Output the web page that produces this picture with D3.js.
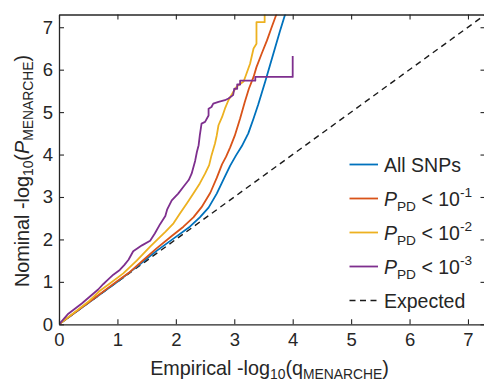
<!DOCTYPE html>
<html>
<head>
<meta charset="utf-8">
<script src="https://cdn.jsdelivr.net/npm/d3@7"></script>
<style>
  html, body { margin: 0; padding: 0; background: #fff; }
  svg { display: block; font-family: "Liberation Sans", Arial, Helvetica, sans-serif; }
</style>
</head>
<body>
<svg id="chart" width="484" height="381"></svg>
<script>
// Q-Q curves: [empirical -log10(q), nominal -log10(P)]
const allSnps = [
  [0, 0], [0.5, 0.5], [1.0, 1.0], [1.4, 1.43], [1.67, 1.73], [2.0, 2.06], [2.24, 2.3],
  [2.41, 2.52], [2.56, 2.75], [2.70, 3.08], [2.81, 3.40], [2.93, 3.74], [3.03, 3.98],
  [3.13, 4.2], [3.24, 4.5], [3.33, 4.85], [3.41, 5.18], [3.47, 5.45], [3.53, 5.72],
  [3.61, 6.1], [3.70, 6.52], [3.78, 6.9], [3.87, 7.3], [3.92, 7.55]
];
const pd1 = [
  [0, 0], [0.5, 0.51], [1.0, 1.02], [1.22, 1.24], [1.44, 1.51], [1.67, 1.79], [1.93, 2.08],
  [2.13, 2.3], [2.30, 2.52], [2.44, 2.76], [2.59, 3.1], [2.70, 3.45], [2.79, 3.77],
  [2.86, 3.95], [2.93, 4.17], [3.01, 4.45], [3.10, 4.85], [3.18, 5.24], [3.25, 5.55],
  [3.33, 5.83], [3.38, 6.06], [3.47, 6.38], [3.56, 6.69], [3.64, 7.0], [3.72, 7.3], [3.76, 7.5]
];
const pd2 = [
  [0, 0], [0.5, 0.53], [0.7, 0.79], [0.87, 0.96], [1.10, 1.2], [1.33, 1.5], [1.56, 1.83],
  [1.70, 2.02], [1.82, 2.18], [1.96, 2.38], [2.07, 2.61], [2.19, 2.85], [2.30, 3.08],
  [2.41, 3.32], [2.50, 3.55], [2.57, 3.75], [2.61, 3.98], [2.67, 4.26], [2.70, 4.45],
  [2.73, 4.69], [2.79, 4.88], [2.84, 5.08], [2.90, 5.28], [2.98, 5.47], [3.04, 5.6],
  [3.10, 5.66], [3.16, 5.72], [3.21, 5.91], [3.27, 6.14], [3.33, 6.5], [3.38, 6.61],
  [3.38, 7.12], [3.52, 7.12], [3.52, 7.5]
];
const pd3 = [
  [0, 0], [0.16, 0.25], [0.39, 0.49], [0.56, 0.69], [0.67, 0.82], [0.76, 0.95], [0.82, 1.03],
  [0.93, 1.17], [1.04, 1.28], [1.12, 1.40], [1.19, 1.52], [1.27, 1.72], [1.42, 1.86],
  [1.56, 1.97], [1.64, 2.14], [1.73, 2.36], [1.82, 2.55], [1.85, 2.70], [1.93, 2.92],
  [2.04, 3.08], [2.13, 3.24], [2.22, 3.40], [2.27, 3.55], [2.33, 3.85], [2.36, 4.06],
  [2.39, 4.22], [2.41, 4.45], [2.44, 4.73], [2.50, 4.77], [2.56, 4.92], [2.56, 5.08],
  [2.61, 5.12], [2.64, 5.20], [2.73, 5.24], [2.84, 5.28], [2.90, 5.32], [2.98, 5.40],
  [3.00, 5.55], [3.05, 5.55], [3.05, 5.65], [3.10, 5.65], [3.10, 5.74], [3.36, 5.74],
  [3.36, 5.83], [4.00, 5.83], [4.00, 6.32]
];
const expected = [[0, 0], [7.3, 7.3]];

const seriesColors = ["#0072BD", "#D95319", "#EDB120", "#7E2F8E"];
const seriesData = [allSnps, pd1, pd2, pd3];
const xTicks = [0, 1, 2, 3, 4, 5, 6, 7];
const yTicks = [0, 1, 2, 3, 4, 5, 6, 7];
const domainMax = 7.3;

const svg = d3.select("#chart");
const plotLeft = 59, plotRight = 485.5, plotTop = 14.5, plotBottom = 324.3;
const axisColor = "#262626";

const x = d3.scaleLinear().domain([0, domainMax]).range([plotLeft, plotRight]);
const y = d3.scaleLinear().domain([0, domainMax]).range([plotBottom, plotTop]);

svg.append("defs").append("clipPath").attr("id", "plot-clip")
  .append("rect").attr("x", plotLeft).attr("y", plotTop)
  .attr("width", plotRight - plotLeft).attr("height", plotBottom - plotTop);

const line = d3.line().x(d => x(d[0])).y(d => y(d[1]));
const plot = svg.append("g").attr("clip-path", "url(#plot-clip)");

// expected null line
plot.append("path").datum(expected)
  .attr("d", line).attr("fill", "none")
  .attr("stroke", "#1a1a1a").attr("stroke-width", 1.4)
  .attr("stroke-dasharray", "6,4.5");

seriesData.forEach((data, i) => {
  plot.append("path").datum(data)
    .attr("d", line).attr("fill", "none")
    .attr("stroke", seriesColors[i]).attr("stroke-width", 1.8)
    .attr("stroke-linejoin", "round");
});

// axes with inward ticks on all four sides
const tickFont = 18.5;
function styleAxis(g) {
  g.selectAll("path.domain").attr("stroke", axisColor).attr("stroke-width", 1.3);
  g.selectAll(".tick line").attr("stroke", axisColor).attr("stroke-width", 1.1);
  g.selectAll(".tick text").attr("fill", "#262626").attr("font-size", tickFont)
    .attr("font-family", "Liberation Sans, Arial, sans-serif");
}
svg.append("g").attr("transform", `translate(0,${plotBottom})`)
  .call(d3.axisBottom(x).tickValues(xTicks).tickFormat(d3.format("d"))
    .tickSize(-5).tickSizeOuter(0).tickPadding(9))
  .call(styleAxis);
svg.append("g").attr("transform", `translate(${plotLeft},0)`)
  .call(d3.axisLeft(y).tickValues(yTicks).tickFormat(d3.format("d"))
    .tickSize(-5).tickSizeOuter(0).tickPadding(6))
  .call(styleAxis);
svg.append("g").attr("transform", `translate(0,${plotTop})`)
  .call(d3.axisTop(x).tickValues(xTicks).tickFormat("")
    .tickSize(-5).tickSizeOuter(0))
  .call(styleAxis);
svg.append("g").attr("transform", `translate(${plotRight},0)`)
  .call(d3.axisRight(y).tickValues(yTicks).tickFormat("")
    .tickSize(-5).tickSizeOuter(0))
  .call(styleAxis);

// rich text helper: segments of {t, sub, sup, it}
function rich(textSel, segs, base, subShift) {
  let shift = 0;
  segs.forEach(s => {
    const target = s.sub ? base * subShift : s.sup ? -base * 0.42 : 0;
    const ts = textSel.append("tspan").text(s.t)
      .attr("dy", target - shift)
      .attr("font-size", (s.sub || s.sup) ? base * 0.7 : base);
    if (s.it) ts.attr("font-style", "italic");
    shift = target;
  });
}

const labelSize = 19.8;
const xl = svg.append("text").attr("x", 269.5).attr("y", 375)
  .attr("text-anchor", "middle").attr("fill", "#262626");
rich(xl, [
  { t: "Empirical -log" }, { t: "10", sub: true }, { t: "(q" },
  { t: "MENARCHE", sub: true }, { t: ")" }
], labelSize, 0.22);

const yl = svg.append("text")
  .attr("transform", "translate(28.5,171) rotate(-90)")
  .attr("text-anchor", "middle").attr("fill", "#262626");
rich(yl, [
  { t: "Nominal -log" }, { t: "10", sub: true }, { t: "(" },
  { t: "P", it: true }, { t: "MENARCHE", sub: true }, { t: ")" }
], labelSize, 0.25);

// legend
const legendFont = 19.5;
const legendRows = [
  { color: seriesColors[0], dash: null, segs: [{ t: "All SNPs" }] },
  { color: seriesColors[1], dash: null, segs: [{ t: "P", it: true }, { t: "PD", sub: true }, { t: " < 10" }, { t: "-1", sup: true }] },
  { color: seriesColors[2], dash: null, segs: [{ t: "P", it: true }, { t: "PD", sub: true }, { t: " < 10" }, { t: "-2", sup: true }] },
  { color: seriesColors[3], dash: null, segs: [{ t: "P", it: true }, { t: "PD", sub: true }, { t: " < 10" }, { t: "-3", sup: true }] },
  { color: "#1a1a1a", dash: "6,4.5", segs: [{ t: "Expected" }] }
];
const legendY0 = 164.5, legendStep = 34;
legendRows.forEach((r, i) => {
  const ly = legendY0 + i * legendStep;
  svg.append("line").attr("x1", 349.5).attr("x2", 378).attr("y1", ly).attr("y2", ly)
    .attr("stroke", r.color).attr("stroke-width", r.dash ? 1.4 : 1.8)
    .attr("stroke-dasharray", r.dash);
  const t = svg.append("text").attr("x", 384).attr("y", ly + 7).attr("fill", "#262626");
  rich(t, r.segs, legendFont, 0.3);
});
</script>
</body>
</html>
